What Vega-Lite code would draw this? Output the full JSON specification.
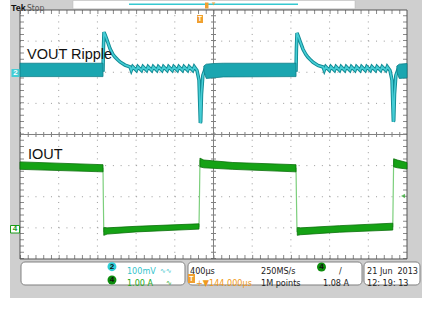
{
"$schema":"https://vega.github.io/schema/vega-lite/v6.json",
"width":431,"height":310,
"autosize":{"type":"fit","contains":"padding"},
"padding":0,
"background":"#ffffff",
"config":{"view":{"stroke":null},"axis":{"disable":true}},
"data":{"values":[{}]},
"datasets":{
"vout":[
{"t":0,"v":2.07},{"t":858,"v":2.07},{"t":862,"v":2.75},{"t":868,"v":3.29},{"t":880,"v":3.2},{"t":899,"v":3.04},{"t":930,"v":2.76},{"t":960,"v":2.58},{"t":982,"v":2.49},{"t":1010,"v":2.4},{"t":1034,"v":2.33},{"t":1085,"v":2.23},{"t":1137,"v":2.17},
{"t":1150,"v":2.06},{"t":1165,"v":2.18},{"t":1203,"v":2.06},{"t":1218,"v":2.18},{"t":1256,"v":2.06},{"t":1271,"v":2.18},{"t":1309,"v":2.06},{"t":1324,"v":2.18},{"t":1362,"v":2.06},{"t":1377,"v":2.18},{"t":1415,"v":2.06},{"t":1430,"v":2.18},{"t":1468,"v":2.06},{"t":1483,"v":2.18},{"t":1521,"v":2.06},{"t":1536,"v":2.18},{"t":1574,"v":2.06},{"t":1589,"v":2.18},{"t":1627,"v":2.06},{"t":1642,"v":2.18},{"t":1680,"v":2.06},{"t":1695,"v":2.18},{"t":1733,"v":2.06},{"t":1748,"v":2.18},{"t":1786,"v":2.06},{"t":1801,"v":2.18},
{"t":1829,"v":2.06},{"t":1850,"v":1.75},{"t":1864,"v":0.37},{"t":1868,"v":0.42},{"t":1876,"v":1.3},{"t":1890,"v":1.9},{"t":1910,"v":2.07},
{"t":2853,"v":2.07},{"t":2857,"v":2.75},{"t":2863,"v":3.26},{"t":2875,"v":3.17},{"t":2894,"v":3.0},{"t":2925,"v":2.74},{"t":2955,"v":2.57},{"t":2977,"v":2.48},{"t":3005,"v":2.39},{"t":3029,"v":2.32},{"t":3080,"v":2.22},{"t":3132,"v":2.17},
{"t":3145,"v":2.06},{"t":3160,"v":2.18},{"t":3198,"v":2.06},{"t":3213,"v":2.18},{"t":3251,"v":2.06},{"t":3266,"v":2.18},{"t":3304,"v":2.06},{"t":3319,"v":2.18},{"t":3357,"v":2.06},{"t":3372,"v":2.18},{"t":3410,"v":2.06},{"t":3425,"v":2.18},{"t":3463,"v":2.06},{"t":3478,"v":2.18},{"t":3516,"v":2.06},{"t":3531,"v":2.18},{"t":3569,"v":2.06},{"t":3584,"v":2.18},{"t":3622,"v":2.06},{"t":3637,"v":2.18},{"t":3675,"v":2.06},{"t":3690,"v":2.18},{"t":3728,"v":2.06},{"t":3743,"v":2.18},{"t":3781,"v":2.06},{"t":3796,"v":2.18},
{"t":3824,"v":2.06},{"t":3845,"v":1.75},{"t":3859,"v":0.41},{"t":3863,"v":0.45},{"t":3871,"v":1.3},{"t":3885,"v":1.9},{"t":3905,"v":2.07},{"t":4000,"v":2.07}
],
"vband":[
{"seg":"a","t":0,"lo":1.86,"hi":2.29},{"seg":"a","t":858,"lo":1.86,"hi":2.29},
{"seg":"b","t":1900,"lo":2.03,"hi":2.2},{"seg":"b","t":1925,"lo":1.8,"hi":2.26},{"seg":"b","t":2000,"lo":1.82,"hi":2.28},{"seg":"b","t":2100,"lo":1.85,"hi":2.29},{"seg":"b","t":2853,"lo":1.86,"hi":2.29},
{"seg":"c","t":3895,"lo":2.02,"hi":2.2},{"seg":"c","t":3920,"lo":1.8,"hi":2.26},{"seg":"c","t":4000,"lo":1.82,"hi":2.28}
],
"iout":[
{"t":0,"v":-1.0},{"t":858,"v":-1.09},{"t":861,"v":-2.0},{"t":866,"v":-3.12},{"t":880,"v":-3.14},{"t":1100,"v":-3.1},{"t":1400,"v":-3.05},{"t":1650,"v":-3.0},{"t":1850,"v":-2.96},{"t":1855,"v":-2.0},{"t":1860,"v":-0.85},{"t":1880,"v":-0.88},{"t":1950,"v":-0.93},{"t":2200,"v":-0.99},{"t":2500,"v":-1.04},{"t":2853,"v":-1.09},{"t":2857,"v":-2.0},{"t":2863,"v":-3.12},{"t":2880,"v":-3.14},{"t":3100,"v":-3.09},{"t":3400,"v":-3.04},{"t":3853,"v":-2.96},{"t":3857,"v":-2.0},{"t":3862,"v":-0.85},{"t":3880,"v":-0.88},{"t":3950,"v":-0.93},{"t":4000,"v":-0.96}
],
"iband":[
{"seg":"a","t":0,"lo":-1.12,"hi":-0.88},{"seg":"a","t":858,"lo":-1.2,"hi":-0.97},
{"seg":"b","t":866,"lo":-3.24,"hi":-2.99},{"seg":"b","t":900,"lo":-3.2,"hi":-3.0},{"seg":"b","t":1200,"lo":-3.13,"hi":-2.95},{"seg":"b","t":1850,"lo":-3.04,"hi":-2.87},
{"seg":"c","t":1860,"lo":-1.04,"hi":-0.76},{"seg":"c","t":1900,"lo":-1.07,"hi":-0.82},{"seg":"c","t":2200,"lo":-1.12,"hi":-0.9},{"seg":"c","t":2853,"lo":-1.2,"hi":-0.97},
{"seg":"d","t":2866,"lo":-3.24,"hi":-2.99},{"seg":"d","t":2900,"lo":-3.22,"hi":-3.0},{"seg":"d","t":3300,"lo":-3.14,"hi":-2.93},{"seg":"d","t":3853,"lo":-3.07,"hi":-2.85},
{"seg":"e","t":3862,"lo":-1.04,"hi":-0.78},{"seg":"e","t":3900,"lo":-1.07,"hi":-0.82},{"seg":"e","t":4000,"lo":-1.11,"hi":-0.9}
]
},
"layer":[
{"mark":{"type":"rect","color":"#cfcfcf"},
 "encoding":{"x":{"datum":-103.4,"type":"quantitative","scale":{"domain":[-206.72,4248.06],"nice":false,"zero":false},"axis":null},
 "x2":{"datum":4155.0},
 "y":{"datum":4.32,"type":"quantitative","scale":{"domain":[-5.6386,4.3213],"nice":false,"zero":false},"axis":null},
 "y2":{"datum":-5.253}}},
{"mark":{"type":"rect","color":"#ffffff"},"encoding":{"x":{"datum":0},"x2":{"datum":4000},"y":{"datum":-4},"y2":{"datum":4}}},
{"mark":{"type":"rect","fill":"#ffffff","stroke":"#b8b8b8","strokeWidth":0.5},"encoding":{"x":{"datum":547.8},"x2":{"datum":3462.5},"y":{"datum":4.04},"y2":{"datum":4.305}}},
{"mark":{"type":"rule","color":"#35c8d0","strokeWidth":1.5},"encoding":{"x":{"datum":1126.6},"x2":{"datum":2873.4},"y":{"datum":4.183}}},
{"mark":{"type":"text","text":"Tek","align":"left","font":"Liberation Sans","fontWeight":"bold","fontSize":9,"color":"#111"},"encoding":{"x":{"datum":-93.0},"y":{"datum":4.064}}},
{"mark":{"type":"text","text":"Stop","align":"left","font":"Liberation Sans Narrow, DejaVu Sans Condensed, Liberation Sans","fontSize":8.5,"color":"#555"},"encoding":{"x":{"datum":72.4},"y":{"datum":4.064}}},
{"mark":{"type":"rect","color":"#f0a030"},"encoding":{"x":{"datum":1912.1},"x2":{"datum":1948.3},"y":{"datum":4.241},"y2":{"datum":4.048}}},
{"mark":{"type":"point","shape":"triangle-down","filled":true,"color":"#f0a030","size":14},"encoding":{"x":{"datum":2000},"y":{"datum":4.2}}},

{"data":{"values":[{"t":400},{"t":800},{"t":1200},{"t":1600},{"t":2400},{"t":2800},{"t":3200},{"t":3600}]},
 "mark":{"type":"rule","color":"#9a9a9a","strokeWidth":1,"strokeDash":[1,5.225]},
 "encoding":{"x":{"field":"t","type":"quantitative"},"y":{"datum":-4},"y2":{"datum":4}}},
{"data":{"values":[{"v":-3},{"v":-2},{"v":-1},{"v":1},{"v":2},{"v":3}]},
 "mark":{"type":"rule","color":"#9a9a9a","strokeWidth":1,"strokeDash":[1,6.74]},
 "encoding":{"y":{"field":"v","type":"quantitative"},"x":{"datum":0},"x2":{"datum":4000}}},
{"mark":{"type":"rule","color":"#808080","strokeWidth":1},"encoding":{"x":{"datum":2000},"y":{"datum":-4},"y2":{"datum":4}}},
{"mark":{"type":"rule","color":"#808080","strokeWidth":1},"encoding":{"y":{"datum":0},"x":{"datum":0},"x2":{"datum":4000}}},
{"mark":{"type":"rule","color":"#808080","strokeWidth":5,"strokeDash":[1,5.225]},"encoding":{"x":{"datum":2000},"y":{"datum":-4},"y2":{"datum":4}}},
{"mark":{"type":"rule","color":"#808080","strokeWidth":5,"strokeDash":[1,6.74]},"encoding":{"y":{"datum":0},"x":{"datum":0},"x2":{"datum":4000}}},
{"mark":{"type":"rule","color":"#8a8a8a","strokeWidth":4,"strokeDash":[1,6.74]},"encoding":{"y":{"datum":3.9357},"x":{"datum":0},"x2":{"datum":4000}}},
{"mark":{"type":"rule","color":"#8a8a8a","strokeWidth":4,"strokeDash":[1,6.74]},"encoding":{"y":{"datum":-3.9357},"x":{"datum":0},"x2":{"datum":4000}}},
{"mark":{"type":"rule","color":"#8a8a8a","strokeWidth":4,"strokeDash":[1,5.225]},"encoding":{"x":{"datum":20.67},"y":{"datum":-4},"y2":{"datum":4}}},
{"mark":{"type":"rule","color":"#8a8a8a","strokeWidth":4,"strokeDash":[1,5.225]},"encoding":{"x":{"datum":3979.3},"y":{"datum":-4},"y2":{"datum":4}}},
{"mark":{"type":"rect","fill":"#ffffff","fillOpacity":0,"stroke":"#555555","strokeWidth":1},"encoding":{"x":{"datum":0},"x2":{"datum":4000},"y":{"datum":-4},"y2":{"datum":4}}},

{"data":{"name":"vout"},"mark":{"type":"line","color":"#108a94","strokeWidth":3.5,"strokeJoin":"miter"},"encoding":{"x":{"field":"t","type":"quantitative"},"y":{"field":"v","type":"quantitative"}}},
{"data":{"name":"vout"},"mark":{"type":"line","color":"#45cdd5","strokeWidth":1.6,"strokeJoin":"miter"},"encoding":{"x":{"field":"t","type":"quantitative"},"y":{"field":"v","type":"quantitative"}}},
{"data":{"name":"vband"},"mark":{"type":"area","color":"#1ba6b0","stroke":"#0d7f88","strokeWidth":0.8},"encoding":{"x":{"field":"t","type":"quantitative"},"y":{"field":"hi","type":"quantitative"},"y2":{"field":"lo"},"detail":{"field":"seg"}}},
{"data":{"name":"iout"},"mark":{"type":"line","color":"#7ccf7c","strokeWidth":1.2},"encoding":{"x":{"field":"t","type":"quantitative"},"y":{"field":"v","type":"quantitative"}}},
{"data":{"name":"iband"},"mark":{"type":"area","color":"#15a215","stroke":"#0a700a","strokeWidth":0.8},"encoding":{"x":{"field":"t","type":"quantitative"},"y":{"field":"hi","type":"quantitative"},"y2":{"field":"lo"},"detail":{"field":"seg"}}},

{"mark":{"type":"text","text":"VOUT Ripple","align":"left","font":"Liberation Sans","fontSize":14.5,"color":"#111"},"encoding":{"x":{"datum":72.4},"y":{"datum":2.554}}},
{"mark":{"type":"text","text":"IOUT","align":"left","font":"Liberation Sans","fontSize":14.5,"color":"#111"},"encoding":{"x":{"datum":83.0},"y":{"datum":-0.6586}}},

{"mark":{"type":"rect","color":"#45cdd5"},"encoding":{"x":{"datum":-87.9},"x2":{"datum":-5.2},"y":{"datum":2.104},"y2":{"datum":1.847}}},
{"mark":{"type":"text","text":"2","align":"center","baseline":"middle","font":"Liberation Sans","fontWeight":"bold","fontSize":8,"color":"#ffffff"},"encoding":{"x":{"datum":-46.5},"y":{"datum":1.976}}},
{"mark":{"type":"rect","fill":"#ffffff","stroke":"#1a9a1a","strokeWidth":1},"encoding":{"x":{"datum":-98},"x2":{"datum":-5.2},"y":{"datum":-2.924},"y2":{"datum":-3.165}}},
{"mark":{"type":"text","text":"4","align":"center","baseline":"middle","font":"Liberation Sans","fontWeight":"bold","fontSize":8,"color":"#1a9a1a"},"encoding":{"x":{"datum":-51.7},"y":{"datum":-3.043}}},
{"mark":{"type":"point","shape":"triangle-left","filled":true,"color":"#2aa82a","size":22},"encoding":{"x":{"datum":3958.7},"y":{"datum":-1.976}}},
{"mark":{"type":"rect","color":"#f0a030"},"encoding":{"x":{"datum":1829.5},"x2":{"datum":1891.5},"y":{"datum":3.839},"y2":{"datum":3.582}}},
{"mark":{"type":"text","text":"T","align":"center","baseline":"middle","font":"Liberation Sans","fontWeight":"bold","fontSize":7,"color":"#ffffff"},"encoding":{"x":{"datum":1860.5},"y":{"datum":3.711}}},

{"mark":{"type":"rect","fill":"#ffffff","stroke":"#808080","strokeWidth":1,"cornerRadius":4},"encoding":{"x":{"datum":10.3},"x2":{"datum":1705.4},"y":{"datum":-4.096},"y2":{"datum":-4.835}}},
{"mark":{"type":"rect","fill":"#ffffff","stroke":"#808080","strokeWidth":1,"cornerRadius":4},"encoding":{"x":{"datum":1736.4},"x2":{"datum":3534.9},"y":{"datum":-4.096},"y2":{"datum":-4.835}}},
{"mark":{"type":"rect","fill":"#ffffff","stroke":"#808080","strokeWidth":1,"cornerRadius":4},"encoding":{"x":{"datum":3555.6},"x2":{"datum":4134.3},"y":{"datum":-4.096},"y2":{"datum":-4.835}}},

{"mark":{"type":"point","shape":"circle","filled":true,"color":"#2dcfd8","opacity":1,"size":80},"encoding":{"x":{"datum":950.4},"y":{"datum":-4.2474}}},
{"mark":{"type":"text","text":"2","align":"center","baseline":"middle","font":"Liberation Sans","fontWeight":"bold","fontSize":8,"color":"#111"},"encoding":{"x":{"datum":950.4},"y":{"datum":-4.2474}}},
{"mark":{"type":"point","shape":"circle","filled":true,"color":"#0c8c0c","opacity":1,"size":80},"encoding":{"x":{"datum":950.4},"y":{"datum":-4.6747}}},
{"mark":{"type":"text","text":"4","align":"center","baseline":"middle","font":"Liberation Sans","fontWeight":"bold","fontSize":8,"color":"#111"},"encoding":{"x":{"datum":950.4},"y":{"datum":-4.6747}}},
{"mark":{"type":"text","text":"100mV","align":"left","font":"Liberation Sans Narrow, DejaVu Sans Condensed, Liberation Sans","fontSize":9,"color":"#33c4cc"},"encoding":{"x":{"datum":1105.4},"y":{"datum":-4.3855}}},
{"mark":{"type":"text","text":"∿∿","align":"left","font":"DejaVu Sans","fontSize":7,"color":"#33c4cc"},"encoding":{"x":{"datum":1447},"y":{"datum":-4.3855}}},
{"mark":{"type":"text","text":"1.00 A","align":"left","font":"Liberation Sans Narrow, DejaVu Sans Condensed, Liberation Sans","fontSize":9,"color":"#22a822"},"encoding":{"x":{"datum":1105.4},"y":{"datum":-4.7711}}},
{"mark":{"type":"text","text":"∿","align":"left","font":"DejaVu Sans","fontSize":7,"color":"#22a822"},"encoding":{"x":{"datum":1509},"y":{"datum":-4.7711}}},
{"mark":{"type":"text","text":"400µs","align":"left","font":"Liberation Sans Narrow, DejaVu Sans Condensed, Liberation Sans","fontSize":9,"color":"#222"},"encoding":{"x":{"datum":1757.1},"y":{"datum":-4.3855}}},
{"mark":{"type":"rect","color":"#f0a030"},"encoding":{"x":{"datum":1736.4},"x2":{"datum":1808.8},"y":{"datum":-4.482},"y2":{"datum":-4.771}}},
{"mark":{"type":"text","text":"T","align":"center","baseline":"middle","font":"Liberation Sans","fontWeight":"bold","fontSize":7,"color":"#ffffff"},"encoding":{"x":{"datum":1772.6},"y":{"datum":-4.627}}},
{"mark":{"type":"text","text":"+▼144.000µs","align":"left","font":"Liberation Sans Narrow, DejaVu Sans Condensed, Liberation Sans","fontSize":9,"color":"#f09a20"},"encoding":{"x":{"datum":1819.1},"y":{"datum":-4.7711}}},
{"mark":{"type":"text","text":"250MS/s","align":"left","font":"Liberation Sans Narrow, DejaVu Sans Condensed, Liberation Sans","fontSize":9,"color":"#222"},"encoding":{"x":{"datum":2490.9},"y":{"datum":-4.3855}}},
{"mark":{"type":"text","text":"1M points","align":"left","font":"Liberation Sans Narrow, DejaVu Sans Condensed, Liberation Sans","fontSize":9,"color":"#222"},"encoding":{"x":{"datum":2490.9},"y":{"datum":-4.7711}}},
{"mark":{"type":"point","shape":"circle","filled":true,"color":"#0c8c0c","opacity":1,"size":80},"encoding":{"x":{"datum":3116.3},"y":{"datum":-4.257}}},
{"mark":{"type":"text","text":"4","align":"center","baseline":"middle","font":"Liberation Sans","fontWeight":"bold","fontSize":8,"color":"#111"},"encoding":{"x":{"datum":3116.3},"y":{"datum":-4.257}}},
{"mark":{"type":"text","text":"/","align":"left","font":"Liberation Sans Narrow, DejaVu Sans Condensed, Liberation Sans","fontSize":9,"color":"#222"},"encoding":{"x":{"datum":3297.2},"y":{"datum":-4.3855}}},
{"mark":{"type":"text","text":"1.08 A","align":"left","font":"Liberation Sans Narrow, DejaVu Sans Condensed, Liberation Sans","fontSize":9,"color":"#222"},"encoding":{"x":{"datum":3131.8},"y":{"datum":-4.7711}}},
{"mark":{"type":"text","text":"21 Jun","align":"left","font":"Liberation Sans Narrow, DejaVu Sans Condensed, Liberation Sans","fontSize":9,"color":"#222"},"encoding":{"x":{"datum":3586.6},"y":{"datum":-4.3855}}},
{"mark":{"type":"text","text":"2013","align":"right","font":"Liberation Sans Narrow, DejaVu Sans Condensed, Liberation Sans","fontSize":9,"color":"#222"},"encoding":{"x":{"datum":4113.7},"y":{"datum":-4.3855}}},
{"mark":{"type":"text","text":"12: 19: 13","align":"left","font":"Liberation Sans Narrow, DejaVu Sans Condensed, Liberation Sans","fontSize":9,"color":"#222"},"encoding":{"x":{"datum":3586.6},"y":{"datum":-4.7711}}}
]
}
